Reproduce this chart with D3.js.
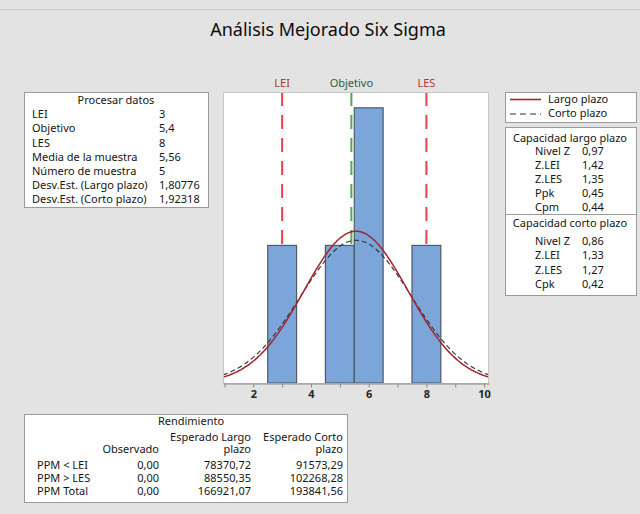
<!DOCTYPE html>
<html>
<head>
<meta charset="utf-8">
<script src="https://cdn.jsdelivr.net/npm/d3@7"></script>
<style>
  body { margin: 0; background: #e3e3e3; }
  svg text { font-family: "Noto Sans", "DejaVu Sans", sans-serif; fill: #151515; }
</style>
</head>
<body>
<svg id="chart" width="640" height="514"></svg>
<script>
// histogram bins (start of bin, width 1) and counts
var binStarts = [2.5, 4.5, 5.5, 7.5];
var binCounts = [1, 1, 2, 1];
var binWidth = 1;

// process parameters
var lei = 3, objetivo = 5.4, les = 8;
var media = 5.56, nMuestra = 5;
var sdLargo = 1.80776, sdCorto = 1.92318;

var xTicks = [1, 2, 3, 4, 5, 6, 7, 8, 9, 10];
var xLabels = [2, 4, 6, 8, 10];

var procLabels = ["LEI", "Objetivo", "LES", "Media de la muestra", "Número de muestra",
	"Desv.Est. (Largo plazo)", "Desv.Est. (Corto plazo)"];
var procValues = ["3", "5,4", "8", "5,56", "5", "1,80776", "1,92318"];

var capLargoLabels = ["Nivel Z", "Z.LEI", "Z.LES", "Ppk", "Cpm"];
var capLargoValues = ["0,97", "1,42", "1,35", "0,45", "0,44"];
var capCortoLabels = ["Nivel Z", "Z.LEI", "Z.LES", "Cpk"];
var capCortoValues = ["0,86", "1,33", "1,27", "0,42"];

var rendRows = ["PPM < LEI", "PPM > LES", "PPM Total"];
var rendObservado = ["0,00", "0,00", "0,00"];
var rendLargo = ["78370,72", "88550,35", "166921,07"];
var rendCorto = ["91573,29", "102268,28", "193841,56"];

var svg = d3.select("#chart");

// plot area
var plot = { left: 223, right: 489, top: 92, bottom: 383 };

var x = d3.scaleLinear().domain([0.95, 10.17]).range([plot.left, plot.right]);
var y = d3.scaleLinear().domain([0, 2.115]).range([plot.bottom, plot.top]);

// outer frame line
svg.append("line")
	.attr("x1", 0).attr("x2", 640).attr("y1", 9.5).attr("y2", 9.5)
	.style("stroke", "#c4c4c4");

// title
svg.append("text")
	.attr("x", 328).attr("y", 30).attr("dy", "0.35em")
	.attr("text-anchor", "middle")
	.style("font-size", "18px")
	.style("fill", "#0d0d0d")
	.text("Análisis Mejorado Six Sigma");

svg.append("defs").append("clipPath").attr("id", "plotclip")
	.append("rect")
	.attr("x", plot.left).attr("y", plot.top)
	.attr("width", plot.right - plot.left).attr("height", plot.bottom - plot.top);

svg.append("rect")
	.attr("x", plot.left).attr("y", plot.top)
	.attr("width", plot.right - plot.left).attr("height", plot.bottom - plot.top)
	.style("fill", "#fff");

// reference lines
var refs = [
	{ name: "LEI", v: lei, line: "#e8434b", txt: "#b3333a" },
	{ name: "Objetivo", v: objetivo, line: "#4eaa55", txt: "#27643a" },
	{ name: "LES", v: les, line: "#e8434b", txt: "#b3333a" }
];
svg.append("g").selectAll("line")
	.data(refs)
	.enter().append("line")
	.attr("x1", function(d) { return x(d.v); })
	.attr("x2", function(d) { return x(d.v); })
	.attr("y1", plot.top).attr("y2", plot.bottom)
	.style("stroke", function(d) { return d.line; })
	.style("stroke-width", 2)
	.style("stroke-dasharray", "14,9");
svg.append("g").selectAll("text")
	.data(refs)
	.enter().append("text")
	.attr("x", function(d) { return x(d.v); })
	.attr("y", 83).attr("dy", "0.35em")
	.attr("text-anchor", "middle")
	.style("font-size", "11px")
	.style("fill", function(d) { return d.txt; })
	.text(function(d) { return d.name; });

// bars
svg.append("g").selectAll("rect")
	.data(binStarts)
	.enter().append("rect")
	.attr("x", function(d) { return x(d); })
	.attr("width", function(d) { return x(d + binWidth) - x(d); })
	.attr("y", function(d, i) { return y(binCounts[i]); })
	.attr("height", function(d, i) { return y(0) - y(binCounts[i]); })
	.style("fill", "#7ca6d9")
	.style("stroke", "#4f5a66")
	.style("stroke-width", 1.2);

// fitted normal curves, scaled to counts
function normalCurve(sd) {
	var n = 240, x0 = x.domain()[0], x1 = x.domain()[1];
	return d3.range(n + 1).map(function(i) {
		var v = x0 + (x1 - x0) * i / n;
		var z = (v - media) / sd;
		return [v, nMuestra * binWidth * Math.exp(-0.5 * z * z) / (sd * Math.sqrt(2 * Math.PI))];
	});
}
var line = d3.line()
	.x(function(d) { return x(d[0]); })
	.y(function(d) { return y(d[1]); })
	.curve(d3.curveBasis);

var curves = svg.append("g").attr("clip-path", "url(#plotclip)");
curves.append("path")
	.attr("d", line(normalCurve(sdCorto)))
	.style("fill", "none")
	.style("stroke", "#333")
	.style("stroke-width", 1.1)
	.style("stroke-dasharray", "5,3");
curves.append("path")
	.attr("d", line(normalCurve(sdLargo)))
	.style("fill", "none")
	.style("stroke", "#a3242b")
	.style("stroke-width", 1.5);

// plot frame
svg.append("rect")
	.attr("x", plot.left + 0.5).attr("y", plot.top + 0.5)
	.attr("width", plot.right - plot.left - 1).attr("height", plot.bottom - plot.top)
	.style("fill", "none")
	.style("stroke", "#c6c6c6");

// x axis
var axis = svg.append("g")
	.attr("transform", "translate(0," + (plot.bottom + 0.5) + ")")
	.call(d3.axisBottom(x)
		.tickValues(xTicks)
		.tickSize(4)
		.tickSizeOuter(0)
		.tickFormat(function(d) { return xLabels.indexOf(d) >= 0 ? d : ""; }));
axis.select(".domain").style("stroke", "#8a8a8a");
axis.selectAll(".tick line").style("stroke", "#8a8a8a");
axis.selectAll(".tick text")
	.attr("y", 7)
	.style("font-size", "11px")
	.style("font-weight", "bold")
	.style("fill", "#262626")
	.style("font-family", "'Noto Sans', sans-serif");

// text panels
function box(x0, y0, w, h) {
	svg.append("rect")
		.attr("x", x0 + 0.5).attr("y", y0 + 0.5)
		.attr("width", w).attr("height", h)
		.style("fill", "#fff")
		.style("stroke", "#9a9a9a");
}
function txt(tx, ty, s, anchor) {
	return svg.append("text")
		.attr("x", tx).attr("y", ty).attr("dy", "0.35em")
		.attr("text-anchor", anchor || "start")
		.style("font-size", "11px")
		.text(s);
}

// Procesar datos
box(24, 92, 184, 115);
txt(116, 100, "Procesar datos", "middle");
procLabels.forEach(function(l, i) {
	txt(32, 114.5 + i * 14.1, l);
	txt(159, 114.5 + i * 14.1, procValues[i]);
});

// legend
box(505, 92, 131, 30);
svg.append("line")
	.attr("x1", 510).attr("x2", 541).attr("y1", 99.5).attr("y2", 99.5)
	.style("stroke", "#a3242b").style("stroke-width", 1.6);
svg.append("line")
	.attr("x1", 510).attr("x2", 541).attr("y1", 114).attr("y2", 114)
	.style("stroke", "#333").style("stroke-width", 1.2)
	.style("stroke-dasharray", "6,4");
txt(548, 99, "Largo plazo");
txt(548, 113, "Corto plazo");

// capacidad
box(505, 127, 131, 168);
svg.append("line")
	.attr("x1", 505).attr("x2", 636).attr("y1", 214.5).attr("y2", 214.5)
	.style("stroke", "#9a9a9a");
txt(570, 138.5, "Capacidad largo plazo", "middle");
capLargoLabels.forEach(function(l, i) {
	txt(535, 151.5 + i * 14, l);
	txt(582, 151.5 + i * 14, capLargoValues[i]);
});
txt(570, 223, "Capacidad corto plazo", "middle");
capCortoLabels.forEach(function(l, i) {
	txt(535, 241 + i * 14.5, l);
	txt(582, 241 + i * 14.5, capCortoValues[i]);
});

// rendimiento
box(24, 414, 323, 88);
txt(191, 421, "Rendimiento", "middle");
txt(251, 437, "Esperado Largo", "end");
txt(343, 437, "Esperado Corto", "end");
txt(159, 449.5, "Observado", "end");
txt(251, 449.5, "plazo", "end");
txt(343, 449.5, "plazo", "end");
rendRows.forEach(function(r, i) {
	var ry = 465.5 + i * 13;
	txt(37, ry, r);
	txt(159, ry, rendObservado[i], "end");
	txt(251, ry, rendLargo[i], "end");
	txt(343, ry, rendCorto[i], "end");
});
</script>
</body>
</html>
